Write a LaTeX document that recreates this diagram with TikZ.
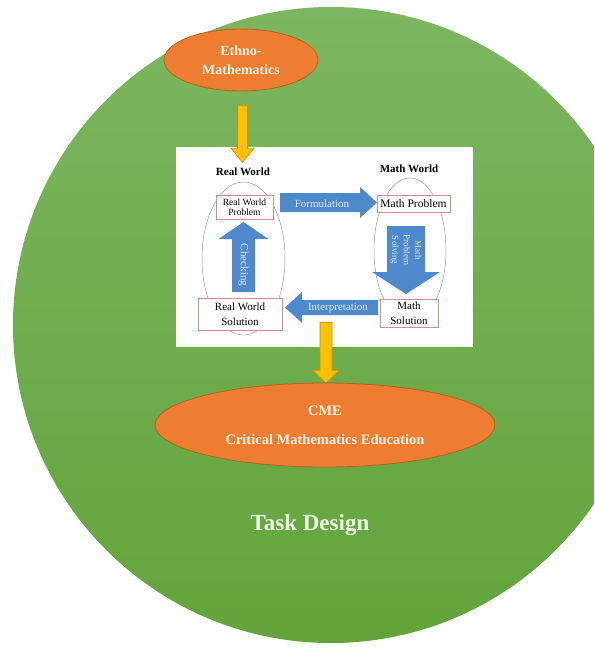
\documentclass[tikz,border=0pt]{standalone}
\usepackage{fontspec}
\setmainfont{Liberation Serif}
\usetikzlibrary{shapes.geometric,calc}
\definecolor{greentop}{HTML}{7CB660}
\definecolor{greenbottom}{HTML}{62A43A}
\definecolor{ovalorange}{HTML}{ED7D31}
\definecolor{ovaledge}{HTML}{B8621F}
\definecolor{ovaltext}{HTML}{FBF0E4}
\definecolor{goldfill}{HTML}{FFC000}
\definecolor{goldedge}{HTML}{D08A10}
\definecolor{cycleblue}{HTML}{4E89CB}
\definecolor{cycletext}{HTML}{DCE7F4}
\definecolor{boxred}{HTML}{D08C92}
\definecolor{worldgray}{HTML}{9A9A9A}
\definecolor{designtext}{HTML}{EEF6E6}

% block arrow: length, half shaft, half head, head length
\tikzset{pics/blockarrow/.style n args={4}{code={
    \path[pic actions] (0,-#2) -- (#1-#4,-#2) -- (#1-#4,-#3) -- (#1,0) -- (#1-#4,#3) -- (#1-#4,#2) -- (0,#2) -- cycle;
}}}

\begin{document}
\begin{tikzpicture}[x=1pt,y=-1pt,
    oval/.style={ellipse, draw=ovaledge, line width=0.8pt, fill=ovalorange, text=ovaltext, inner sep=0pt, align=center, font=\bfseries},
    worldbox/.style={draw=boxred, line width=0.6pt, fill=white, inner sep=0pt, align=center},
    worldoval/.style={ellipse, draw=worldgray, line width=0.5pt, inner sep=0pt},
    cyclearrow/.style={fill=cycleblue},
    cyclelabel/.style={text=cycletext, inner sep=0pt, font=\fontsize{11}{12}\selectfont},
    goldarrow/.style={draw=goldedge, line width=0.6pt, fill=goldfill}
]
    \useasboundingbox (0,0) rectangle (594,650);
    \clip (0,0) rectangle (594,650);

    % Task design circle
    \shade[top color=greentop, bottom color=greenbottom] (331,325) circle (318);

    % Modelling cycle picture
    \node[fill=white, minimum width=297, minimum height=200, inner sep=0pt] (frame) at (324.5,247) {};
    \node[font=\fontsize{11}{12}\selectfont\bfseries] (rw) at (243,172) {Real World};
    \node[font=\fontsize{11}{12}\selectfont\bfseries] (mw) at (409,169) {Math World};
    \node[worldoval, minimum width=83, minimum height=153] (rwoval) at (243.5,258.5) {};
    \node[worldoval, minimum width=72, minimum height=144] (mwoval) at (410,250) {};

    \node[worldbox, minimum width=57, minimum height=24, font=\fontsize{9.5}{10.5}\selectfont] (rwp) at (244.5,207) {Real World\\Problem};
    \node[worldbox, minimum width=73, minimum height=17, font=\fontsize{11.5}{12}\selectfont] (mp) at (413.5,203.5) {Math Problem};
    \node[worldbox, minimum width=84, minimum height=32, font=\fontsize{11}{15}\selectfont] (rws) at (240,314) {Real World\\Solution};
    \node[worldbox, minimum width=58, minimum height=28, font=\fontsize{11}{15}\selectfont] (ms) at (409,313) {Math\\Solution};

    % Blue arrows of the cycle
    \pic[cyclearrow] (form) at (280,202.5) {blockarrow={97}{9.5}{15.5}{17}};
    \pic[cyclearrow, rotate=180] (interp) at (378,307.5) {blockarrow={93}{7.5}{15.5}{17}};
    \pic[cyclearrow, rotate=90] (check) at (243.5,292) {blockarrow={70}{11.5}{25}{17}};
    \pic[cyclearrow, rotate=-90] (solve) at (406,226) {blockarrow={68}{19}{34}{22}};

    \node[cyclelabel] (formtext) at (322,204) {Formulation};
    \node[cyclelabel] (interptext) at (338,308) {Interpretation};
    \node[cyclelabel, rotate=-90] (checktext) at (243.5,265) {Checking};
    \node[cyclelabel, rotate=-90, align=center, font=\fontsize{9}{11.5}\selectfont] (solvetext) at (406,250) {Math\\Problem\\Solving};

    % Gold arrows
    \node[oval, minimum width=154, minimum height=62, font=\fontsize{14}{19}\selectfont\bfseries] (ethno) at (241,60) {Ethno-\\Mathematics};
    \pic[goldarrow, rotate=-90] (toframe) at ($(ethno.south)+(1.5,14)$) {blockarrow={57}{5}{11.5}{14}};
    \pic[goldarrow, rotate=-90] (tocme) at ($(frame.south)+(1.5,-25)$) {blockarrow={61}{6}{13.5}{13}};

    % CME
    \node[oval, minimum width=340, minimum height=84, font=\fontsize{14.5}{29}\selectfont\bfseries] (cme) at (325,425) {CME\\Critical Mathematics Education};

    \node[text=designtext, font=\fontsize{23}{26}\selectfont\bfseries] (design) at (310,525) {Task Design};
\end{tikzpicture}
\end{document}
